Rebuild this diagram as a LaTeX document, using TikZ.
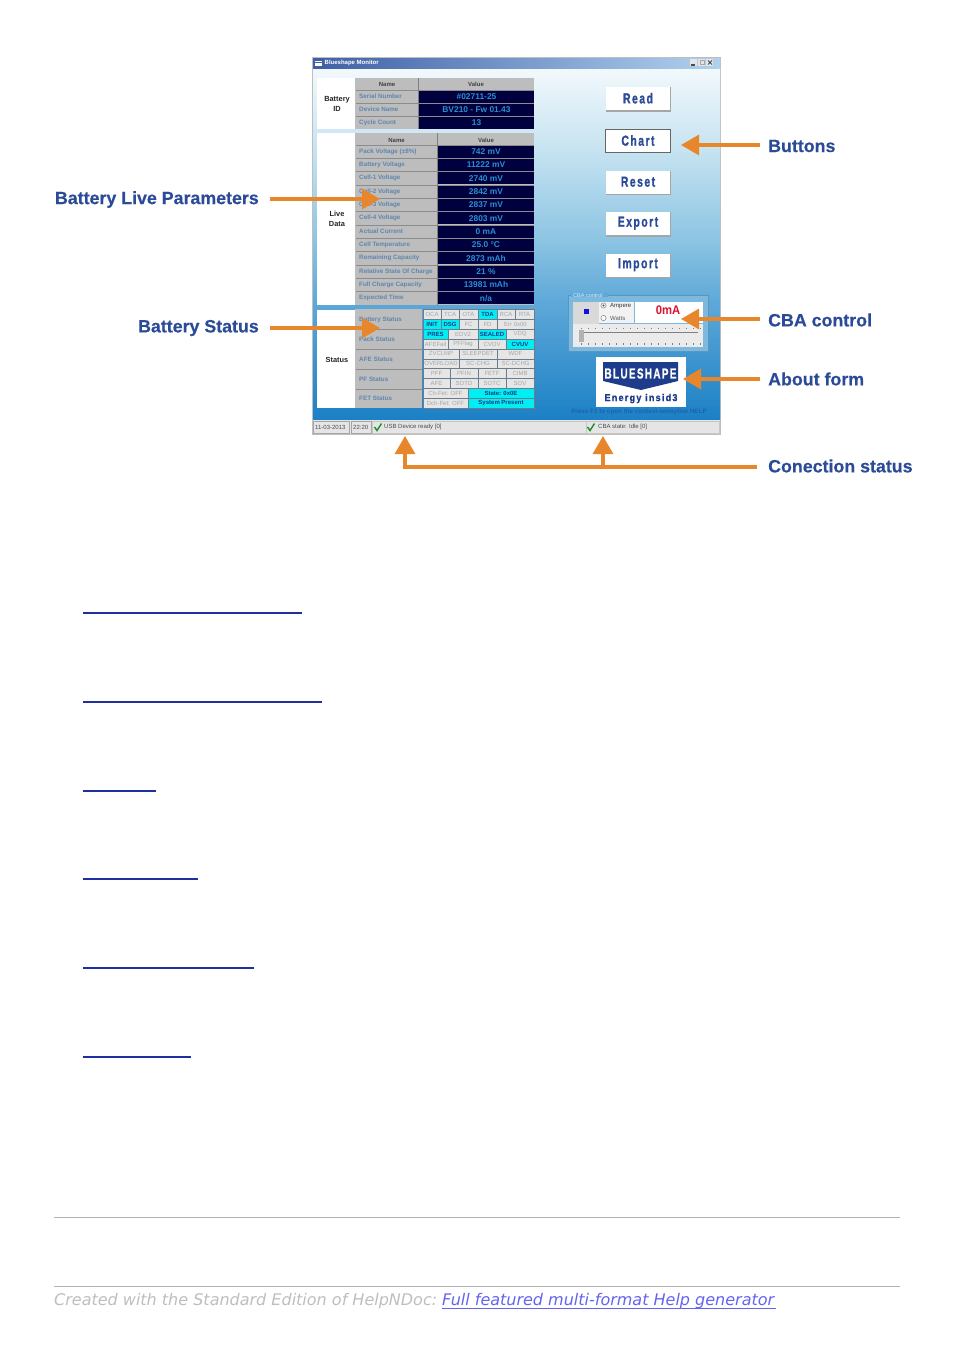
\documentclass[tikz,border=0pt]{standalone}
\usepackage{fontspec}
\usepackage{graphicx}
\setmainfont{Liberation Sans}
\newfontfamily\dejafont{DejaVu Sans}
\newfontfamily\btnfont[LetterSpace=14,BoldFeatures={FakeBold=1.2}]{Liberation Sans}
\newfontfamily\lblfont[BoldFeatures={FakeBold=0.35}]{Liberation Sans}
\usetikzlibrary{arrows.meta,calc}
\definecolor{lblblue}{HTML}{2B4A98}
\definecolor{orangearr}{HTML}{E8862C}
\definecolor{navy}{HTML}{00003F}
\definecolor{valtxt}{HTML}{2A8FD0}
\definecolor{greycell}{HTML}{BDBDBD}
\definecolor{keytxt}{HTML}{5F86AE}
\definecolor{linkline}{HTML}{1F2F9F}
\definecolor{gA}{HTML}{F2F9FC}
\definecolor{gB}{HTML}{C6E3F1}
\definecolor{gC}{HTML}{8CC4E3}
\definecolor{gD}{HTML}{5FA9D9}
\definecolor{gE}{HTML}{1B80C5}
\definecolor{tbL}{HTML}{3F5FA6}
\definecolor{tbR}{HTML}{B0D2EE}
\definecolor{cyanon}{HTML}{00EFF2}
\definecolor{oncell}{HTML}{123A8C}
\definecolor{offcell}{HTML}{E6E6E6}
\definecolor{offtxt}{HTML}{A6A6A6}
\definecolor{cellline}{HTML}{6C7C8C}
\definecolor{logoblue}{HTML}{1E3C8C}
\definecolor{helptxt}{HTML}{1C62AE}
\definecolor{cbafill}{HTML}{7DB9DE}
\definecolor{cbaline}{HTML}{5C96BE}
\definecolor{cbatxt}{HTML}{D8EAF5}
\definecolor{dotblue}{HTML}{1010E0}
\definecolor{dispred}{HTML}{E01030}
\definecolor{okgreen}{HTML}{1E8C2A}
\definecolor{footgrey}{HTML}{BEBEBE}
\definecolor{footlink}{HTML}{6464F0}
\newcommand{\fs}[1]{\fontsize{#1}{#1}\selectfont}
\newcommand{\squeeze}[2]{\scalebox{#1}[1]{#2}}
\tikzset{
  x=1pt,y=-1pt,
  biglabel/.style={font=\lblfont\fs{17.8}\bfseries,text=lblblue,inner sep=0pt},
  arr/.style={draw=orangearr,line width=3.2pt,-{Triangle[length=18pt,width=20pt]}},
  tkey/.style={font=\fs{6.3}\bfseries,text=keytxt,inner sep=0pt,anchor=west},
  tval/.style={font=\fs{8.4}\bfseries,text=valtxt,inner sep=0pt},
  thead/.style={font=\fs{6}\bfseries,text=black!75,inner sep=0pt},
  side/.style={font=\fs{7.4}\bfseries,text=black!85,inner sep=0pt,align=center},
  celloff/.style={font=\fs{6},text=offtxt,inner sep=0pt},
  cellon/.style={font=\fs{6}\bfseries,text=oncell,inner sep=0pt},
  btntext/.style={font=\btnfont\fs{14.5}\bfseries,text=lblblue,inner sep=0pt},
  barline/.style={font=\fs{6},text=black!70,inner sep=0pt,anchor=west},
  rule/.style={draw=black!30,line width=.8pt},
  deadlink/.style={draw=linkline,line width=2pt},
}
\begin{document}
\begin{tikzpicture}
\useasboundingbox (0,0) rectangle (954,1350);
\fill[white] (0,0) rectangle (954,1350);
% window
\fill[black!25] (312,57) rectangle (721,435);
\shade[top color=gA,bottom color=gB] (313,68) rectangle (720,150);
\shade[top color=gB,bottom color=gC] (313,150) rectangle (720,240);
\shade[top color=gC,bottom color=gD] (313,240) rectangle (720,300);
\shade[top color=gD,bottom color=gE] (313,300) rectangle (720,420);
\shade[left color=tbL,right color=tbR] (313,58) rectangle (720,68);
\fill[tbL] (313,58) rectangle (323,68);
\fill[white] (315,60.5) rectangle (322,65.5);
\fill[tbL] (315,61.5) rectangle (322,62.5);
\node[font=\fs{6}\bfseries,text=white,inner sep=0pt,anchor=west] (title) at (324.5,63) {Blueshape Monitor};
\foreach \bx in {690,698,706}
  \fill[black!10] (\bx,59) rectangle ++(7,7);
\fill[black!70] (691,64) rectangle (695,65.5);
\draw[black!35,line width=.6pt] (700,60.5) rectangle (704,64.5);
\draw[black!70,line width=.9pt] (708,60.5) -- (712,64.5) (712,60.5) -- (708,64.5);
% status bar
\fill[black!10] (313,420) rectangle (720,434);
\draw[black!35,line width=.4pt] (313.5,421) rectangle (349,433.5) (351,421) rectangle (371,433.5);
\draw[black!22,line width=.4pt] (372,421) rectangle (586,433.5) (586,421) rectangle (719,433.5);
\node[barline] (sdate) at (315,427) {11-03-2013};
\node[barline] (stime) at (353,427) {22:20};
\node[barline] (susb) at (384,427) {USB Device ready [0]};
\node[barline] (scba) at (598,427) {CBA state: Idle [0]};
\draw[okgreen,line width=1.4pt] (374.5,427) -- (377,430.5) -- (381.5,423.5);
\draw[okgreen,line width=1.4pt] (587.5,427) -- (590,430.5) -- (594.5,423.5);
% battery ID
\fill[white] (317,78) rectangle (355,129);
\fill[greycell] (355,78) rectangle (534,129);
\node[side] (sideid) at (337,104) {Battery\\[3pt]ID};
\node[thead] (hid1) at (387,84) {Name};
\node[thead] (hid2) at (476,84) {Value};
\foreach \i/\k/\v [count=\n from 0] in {1/Serial Number/\#02711-25,2/Device Name/BV210 - Fw 01.43,3/Cycle Count/13}{
  \pgfmathsetmacro{\ya}{90+13*\n}
  \pgfmathsetmacro{\yc}{\ya+6.5}
  \fill[navy] (419,\ya+.7) rectangle (534,\ya+12.5);
  \draw[black!45,line width=.4pt] (356,\ya) -- (534,\ya);
  \node[tkey] (idk\i) at (359,\yc) {\k};
  \node[tval] (idv\i) at (476.5,\yc) {\v};
}
\draw[black!50,line width=.5pt] (418.5,78) -- (418.5,129);
% live data
\fill[white] (317,133) rectangle (355,305);
\fill[greycell] (355,133) rectangle (534,305);
\node[side] (sidelive) at (337,219) {Live\\[3pt]Data};
\node[thead] (hl1) at (396.5,140) {Name};
\node[thead] (hl2) at (486,140) {Value};
\foreach \k/\v [count=\n from 0] in {Pack Voltage (\textpm8\%)/742 mV,Battery Voltage/11222 mV,Cell-1 Voltage/2740 mV,Cell-2 Voltage/2842 mV,Cell-3 Voltage/2837 mV,Cell-4 Voltage/2803 mV,Actual Current/0 mA,Cell Temperature/25.0 °C,Remaining Capacity/2873 mAh,Relative State Of Charge/21 \%,Full Charge Capacity/13981 mAh,Expected Time/{n/a}}{
  \pgfmathsetmacro{\ya}{145+13.33*\n}
  \pgfmathsetmacro{\yc}{\ya+6.6}
  \fill[navy] (438,\ya+.7) rectangle (534,\ya+12.7);
  \draw[black!45,line width=.4pt] (356,\ya) -- (534,\ya);
  \node[tkey] (lk\n) at (359,\yc) {\k};
  \node[tval] (lv\n) at (486,\yc) {\v};
}
\draw[black!50,line width=.5pt] (437.5,133) -- (437.5,305);
% status
\fill[white] (317,310) rectangle (355,408);
\fill[greycell] (355,309) rectangle (422,408);
\node[side] (sidest) at (337,359.5) {Status};
\foreach \k/\y [count=\n] in {Battery Status/320,Pack Status/339.5,AFE Status/359,PF Status/379,FET Status/398.5}
  \node[tkey] (sk\n) at (359,\y) {\k};
\foreach \y in {329,349,368.7,388.7}
  \draw[black!45,line width=.4pt] (356,\y) -- (422,\y);
\foreach \a/\b/\r/\t [count=\n] in {
 423/441/0/OCA,441/459/0/TCA,459/478/0/OTA,497/515/0/RCA,515/534/0/RTA,
 459/478/1/FC,478/497/1/FD,497/534/1/Err 0x00,
 448/478/2/EDV2,506/534/2/VDQ,423/448/3/AFEFail,448/478/3/PFFlag,478/506/3/CVOV,
 423/459/4/ZVCLMP,459/497/4/SLEEPDET,497/534/4/WDF,
 423/459/5/OVERLOAD,459/497/5/SC-CHG,497/534/5/SC-DCHG,
 423/450/6/PFF,450/478/6/PFIN,478/506/6/FETF,506/534/6/CIMB,
 423/450/7/AFE,450/478/7/SOTD,478/506/7/SOTC,506/534/7/SOV,
 423/468/8/Ch-Fet: OFF,423/468/9/Dch-Fet: OFF}{
  \pgfmathsetmacro{\ya}{309.3+9.9*\r}
  \pgfmathsetmacro{\yb}{\ya+9.9}
  \pgfmathsetmacro{\cx}{(\a+\b)/2}
  \pgfmathsetmacro{\cy}{\ya+4.95}
  \path[fill=offcell,draw=cellline,line width=.5pt] (\a,\ya) rectangle (\b,\yb);
  \node[celloff] (coff\n) at (\cx,\cy) {\t};
}
\foreach \a/\b/\r/\t [count=\n] in {
 478/497/0/TDA,423/441/1/INIT,441/459/1/DSG,423/448/2/PRES,478/506/2/SEALED,506/534/3/CVUV,
 468/534/8/State: 0x0E,468/534/9/System Present}{
  \pgfmathsetmacro{\ya}{309.3+9.9*\r}
  \pgfmathsetmacro{\yb}{\ya+9.9}
  \pgfmathsetmacro{\cx}{(\a+\b)/2}
  \pgfmathsetmacro{\cy}{\ya+4.95}
  \path[fill=cyanon,draw=cellline,line width=.5pt] (\a,\ya) rectangle (\b,\yb);
  \node[cellon] (con\n) at (\cx,\cy) {\t};
}
% window buttons
\foreach \nm/\t/\y in {bRead/Read/87,bReset/Reset/170.5,bExport/Export/212,bImport/Import/253.5}{
  \fill[black!35] (605.5,\y) rectangle (671,\y+24.5);
  \fill[white] (605.5,\y) rectangle (670,\y+23);
  \node[btntext] (\nm) at (638,\y+11.2) {\squeeze{.72}{\t}};
}
\draw[fill=white,draw=black!60,line width=1.3pt] (605.5,129.5) rectangle (670.5,152.5);
\node[btntext] (bChart) at (638,140.5) {\squeeze{.72}{Chart}};
% CBA control
\draw[draw=cbaline,fill=cbafill,line width=.8pt] (568,295) rectangle (708,351);
\fill[gD] (571,293) rectangle (608,297);
\node[font=\fs{5.5},text=cbatxt,inner sep=0pt,anchor=west] (cbat) at (573,296) {CBA control};
\fill[black!15] (573,302) rectangle (599,324);
\fill[dotblue] (583.5,309) rectangle (588.5,314);
\fill[black!5] (599,302) rectangle (634,323);
\fill[white] (635,302) rectangle (703,323);
\node[font=\fs{6},text=black!80,inner sep=0pt,anchor=west] (ramp) at (610,306) {Ampere};
\node[font=\fs{6},text=black!65,inner sep=0pt,anchor=west] (rwat) at (610,318) {Watts};
\draw[black!60,fill=white,line width=.4pt] (603.5,305.5) circle (2.6) (603.5,318) circle (2.6);
\fill[black!70] (603.5,305.5) circle (1.2);
\node[font=\fs{12.5}\bfseries,text=dispred,inner sep=0pt] (disp) at (668,310) {\squeeze{.9}{0mA}};
\fill[black!8] (573,324) rectangle (703,347);
\foreach \tx in {581,588,...,700}{
  \fill[black!50] (\tx,327.5) rectangle +(1,1.5);
  \fill[black!50] (\tx,343) rectangle +(1,1.5);
}
\draw[black!50,line width=1pt] (580,332) -- (698,332);
\fill[black!30] (578.5,330) rectangle (584,342);
% logo
\fill[white] (596,357) rectangle (686,407);
\fill[logoblue] (603,362) -- (678,362) -- (678,381) -- (641,390) -- (603,381) -- cycle;
\node[font=\btnfont\fs{14.5}\bfseries,text=white,inner sep=0pt] (logo1) at (640.5,373.5) {\squeeze{.68}{BLUESHAPE}};
\node[font=\btnfont\fs{10}\bfseries,text=logoblue,inner sep=0pt] (logo2) at (641,398.5) {\squeeze{.9}{Energy insid3}};
\node[font=\fs{6.3}\bfseries,text=helptxt,inner sep=0pt] (help) at (639,412) {Press F1 to open the context-sensytive HELP};
% labels and arrows
\node[biglabel,anchor=east] (lLive) at (259,199.5) {Battery Live Parameters};
\node[biglabel,anchor=east] (lStat) at (259,328) {Battery Status};
\node[biglabel,anchor=west] (lBtn) at (768,146) {Buttons};
\node[biglabel,anchor=west] (lCba) at (768,320) {CBA control};
\node[biglabel,anchor=west] (lAbout) at (768,379) {About form};
\node[biglabel,anchor=west] (lConn) at (768,466) {Conection status};
\coordinate (sLive) at (270,199);
\coordinate (tLive) at (380,199);
\coordinate (sStat) at (270,328);
\coordinate (tStat) at (380,328);
\coordinate (sBtn) at (760,145);
\coordinate (tBtn) at (681,145);
\coordinate (sCba) at (760,319);
\coordinate (tCba) at (681,319);
\coordinate (sAbout) at (760,379);
\coordinate (tAbout) at (683,379);
\coordinate (tU1) at (405,436);
\coordinate (tU2) at (603,436);
\draw[arr] (sLive) -- (tLive);
\draw[arr] (sStat) -- (tStat);
\draw[arr] (sBtn) -- (tBtn);
\draw[arr] (sCba) -- (tCba);
\draw[arr] (sAbout) -- (tAbout);
\coordinate (jn) at (405,467);
\coordinate (jm) at (603,467);
\coordinate (cs) at (757,467);
\draw[arr] (cs) -- (jn) -- (tU1);
\draw[arr] (jm) -- (tU2);
% empty links
\foreach \y/\xe in {612.5/302,701.5/322,790.5/156,878.5/198,967.5/254,1056.5/191}
  \draw[deadlink] (83,\y) -- (\xe,\y);
% footer
\draw[rule] (54,1217.5) -- (900,1217.5);
\draw[rule] (54,1286.5) -- (900,1286.5);
\node[font=\dejafont\itshape\fs{16},text=footgrey,inner sep=0pt,anchor=base west] (f1) at (54,1305) {Created with the Standard Edition of HelpNDoc:};
\node[font=\dejafont\itshape\fs{16},text=footlink,inner sep=0pt,anchor=base west] (f2) at (442,1305) {Full featured multi-format Help generator};
\draw[footlink,line width=.9pt] (442,1308) -- (776,1308);
\end{tikzpicture}
\end{document}
